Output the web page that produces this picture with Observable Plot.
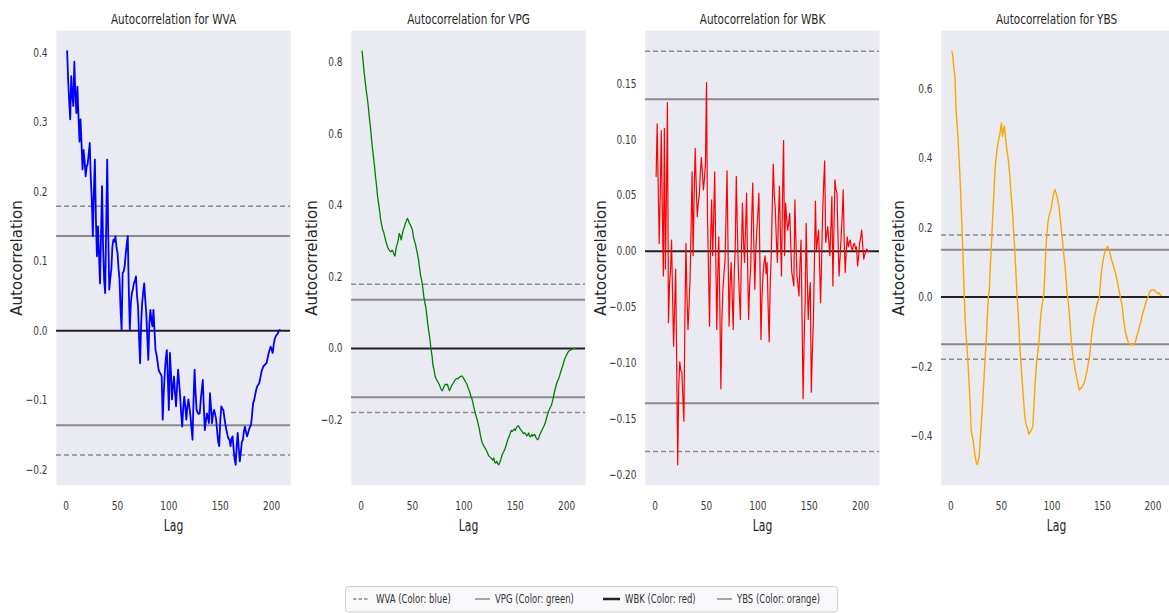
<!DOCTYPE html>
<html>
<head>
<meta charset="utf-8">
<script src="https://cdn.jsdelivr.net/npm/d3@7"></script>
<script src="https://cdn.jsdelivr.net/npm/@observablehq/plot@0.6"></script>
<style>
  html, body { margin: 0; padding: 0; background: #fff; }
  body { position: relative; width: 1169px; height: 613px; overflow: hidden; font-family: "DejaVu Sans", sans-serif; }
  .panel { position: absolute; top: 0; }
  .panel svg { max-width: none !important; overflow: visible; }
  #legend { position: absolute; left: 345px; top: 586px; }
</style>
</head>
<body>
<script>
// ---- data ----
const series = ["WVA", "VPG", "WBK", "YBS"];
const colors = ["blue", "green", "red", "orange"];
const xTicks = [0, 50, 100, 150, 200];
const bandSolid = 0.136;   // 95% band
const bandDashed = 0.179;  // 99% band

const wva = [
  0.402,0.36,0.33,0.304,0.366,0.34,0.323,0.387,0.34,0.313,
  0.351,0.31,0.272,0.304,0.27,0.232,0.26,0.245,0.222,0.236,
  0.24,0.255,0.27,0.22,0.188,0.136,0.2,0.246,0.16,0.107,
  0.15,0.11,0.068,0.14,0.208,0.12,0.073,0.054,0.15,0.246,
  0.14,0.059,0.075,0.088,0.12,0.131,0.128,0.136,0.12,0.112,
  0.09,0.073,0.03,0.001,0.083,0.085,0.093,0.11,0.125,0.136,
  0.06,0.001,0.04,0.054,0.06,0.068,0.072,0.078,0.05,0.035,
  -0.01,-0.047,0.01,0.04,0.055,0.068,0.045,0.025,-0.01,-0.042,
  0.01,0.03,0.015,0.006,0.03,0.0,-0.028,-0.035,-0.045,-0.056,
  -0.06,-0.062,-0.066,-0.128,-0.09,-0.061,-0.04,-0.028,-0.07,-0.114,
  -0.032,-0.06,-0.099,-0.08,-0.066,-0.09,-0.109,-0.08,-0.056,-0.075,
  -0.095,-0.12,-0.138,-0.11,-0.095,-0.11,-0.128,-0.11,-0.099,-0.11,
  -0.123,-0.14,-0.157,-0.1,-0.056,-0.09,-0.114,-0.118,-0.12,-0.119,
  -0.1,-0.085,-0.071,-0.11,-0.143,-0.13,-0.119,-0.125,-0.133,-0.09,
  -0.11,-0.133,-0.12,-0.114,-0.12,-0.128,-0.145,-0.16,-0.166,-0.13,
  -0.109,-0.112,-0.114,-0.125,-0.135,-0.143,-0.15,-0.155,-0.157,-0.166,
  -0.155,-0.152,-0.17,-0.185,-0.193,-0.165,-0.147,-0.17,-0.188,-0.175,
  -0.16,-0.157,-0.145,-0.138,-0.145,-0.152,-0.148,-0.142,-0.138,-0.135,
  -0.12,-0.104,-0.1,-0.092,-0.085,-0.08,-0.078,-0.075,-0.068,-0.06,
  -0.055,-0.051,-0.05,-0.048,-0.047,-0.04,-0.033,-0.028,-0.023,-0.027,
  -0.032,-0.02,-0.012,-0.008,-0.006,-0.004,0.0,0.001
];
const vpg = [
  0.83,0.8,0.77,0.745,0.72,0.7,0.675,0.645,0.62,0.59,
  0.56,0.535,0.51,0.48,0.455,0.425,0.405,0.385,0.36,0.345,
  0.331,0.325,0.312,0.3,0.29,0.282,0.276,0.272,0.27,0.274,
  0.272,0.262,0.258,0.28,0.29,0.3,0.321,0.315,0.303,0.318,
  0.331,0.338,0.349,0.355,0.363,0.358,0.349,0.345,0.338,0.33,
  0.31,0.3,0.29,0.275,0.262,0.245,0.222,0.201,0.19,0.17,
  0.145,0.128,0.115,0.09,0.065,0.045,0.025,-0.002,-0.02,-0.049,
  -0.06,-0.078,-0.085,-0.09,-0.095,-0.1,-0.108,-0.115,-0.118,-0.112,
  -0.104,-0.1,-0.102,-0.1,-0.11,-0.118,-0.112,-0.104,-0.1,-0.095,
  -0.09,-0.086,-0.084,-0.085,-0.082,-0.08,-0.078,-0.077,-0.08,-0.085,
  -0.09,-0.095,-0.1,-0.11,-0.116,-0.125,-0.135,-0.142,-0.155,-0.168,
  -0.179,-0.19,-0.2,-0.212,-0.225,-0.24,-0.255,-0.264,-0.27,-0.276,
  -0.28,-0.285,-0.292,-0.299,-0.302,-0.305,-0.308,-0.312,-0.306,-0.318,
  -0.32,-0.315,-0.322,-0.325,-0.318,-0.31,-0.299,-0.292,-0.287,-0.28,
  -0.272,-0.262,-0.253,-0.245,-0.238,-0.229,-0.232,-0.228,-0.225,-0.229,
  -0.222,-0.218,-0.216,-0.22,-0.226,-0.229,-0.234,-0.238,-0.235,-0.238,
  -0.244,-0.242,-0.236,-0.245,-0.247,-0.24,-0.245,-0.242,-0.24,-0.248,
  -0.253,-0.255,-0.248,-0.24,-0.234,-0.228,-0.222,-0.216,-0.21,-0.2,
  -0.188,-0.18,-0.172,-0.165,-0.16,-0.15,-0.138,-0.123,-0.112,-0.1,
  -0.092,-0.086,-0.078,-0.068,-0.058,-0.05,-0.04,-0.03,-0.024,-0.018,
  -0.012,-0.008,-0.006,-0.004,-0.002,-0.001,0.0,0.0
];
const wbk = [
  0.067,0.114,0.06,0.007,0.05,0.108,0.04,-0.022,0.11,-0.016,
  0.05,0.133,-0.064,-0.03,-0.016,0.01,-0.04,-0.085,-0.05,-0.016,
  -0.1,-0.191,-0.12,-0.099,-0.107,-0.108,-0.13,-0.152,-0.06,0.007,
  -0.04,-0.07,-0.05,-0.025,0.02,0.071,-0.004,0.05,0.092,0.06,
  0.031,0.043,0.05,0.07,0.084,0.07,0.055,0.065,0.078,0.151,
  0.03,-0.019,-0.067,0.01,0.046,-0.004,0.03,0.071,0.0,-0.07,
  -0.02,0.013,-0.05,-0.123,-0.06,-0.034,-0.02,-0.009,0.03,0.072,
  0.0,-0.067,-0.03,-0.01,-0.04,-0.07,-0.02,0.004,0.067,0.02,
  -0.016,-0.04,-0.061,0.0,0.043,0.01,-0.01,0.02,0.052,-0.01,
  -0.061,-0.03,-0.016,0.03,0.061,0.01,-0.034,0.0,0.019,0.035,
  0.052,-0.01,-0.079,-0.04,-0.022,-0.01,-0.004,-0.02,-0.01,-0.05,
  -0.081,-0.03,-0.004,0.04,0.078,0.05,0.037,0.01,-0.01,0.03,
  0.058,0.013,-0.022,0.05,0.099,-0.004,0.043,0.03,0.019,0.025,
  0.034,0.005,-0.019,-0.025,-0.031,0.046,0.01,-0.022,-0.03,-0.04,
  -0.01,0.01,-0.06,-0.132,-0.08,-0.046,0.025,-0.02,-0.061,-0.04,
  -0.028,-0.126,-0.09,-0.064,-0.01,0.045,0.001,0.01,0.019,-0.01,
  -0.046,-0.01,0.034,0.06,0.081,0.008,0.015,0.022,0.01,-0.004,
  0.02,0.049,-0.031,0.02,0.064,0.055,0.052,0.01,-0.022,-0.005,
  0.013,0.03,0.055,0.01,-0.019,0.0,0.013,0.004,0.008,0.01,
  0.003,0.001,0.006,0.007,0.002,0.004,-0.013,-0.005,0.007,0.012,
  0.019,0.005,-0.007,-0.003,0.0,0.002,0.0,0.0
];
const ybs = [
  0.708,0.69,0.656,0.636,0.54,0.5,0.46,0.4,0.345,0.27,
  0.195,0.11,0.02,-0.06,-0.11,-0.15,-0.195,-0.25,-0.31,-0.382,
  -0.4,-0.411,-0.44,-0.459,-0.475,-0.483,-0.47,-0.459,-0.41,-0.37,
  -0.325,-0.27,-0.22,-0.17,-0.12,-0.06,0.0,0.02,0.09,0.146,
  0.21,0.27,0.33,0.38,0.41,0.433,0.45,0.463,0.48,0.501,
  0.463,0.48,0.492,0.46,0.433,0.41,0.39,0.36,0.318,0.28,
  0.242,0.19,0.146,0.09,0.03,-0.02,-0.07,-0.13,-0.18,-0.22,
  -0.26,-0.3,-0.34,-0.36,-0.373,-0.38,-0.395,-0.39,-0.387,-0.38,
  -0.373,-0.32,-0.267,-0.22,-0.18,-0.16,-0.133,-0.09,-0.05,-0.027,
  -0.01,0.01,0.07,0.14,0.18,0.215,0.23,0.245,0.251,0.27,
  0.29,0.3,0.309,0.3,0.29,0.275,0.261,0.23,0.203,0.175,
  0.146,0.115,0.088,0.05,0.011,-0.01,-0.04,-0.08,-0.123,-0.15,
  -0.175,-0.19,-0.21,-0.225,-0.24,-0.255,-0.267,-0.265,-0.262,-0.258,
  -0.252,-0.248,-0.235,-0.22,-0.21,-0.19,-0.175,-0.15,-0.12,-0.094,
  -0.075,-0.055,-0.046,-0.03,-0.017,-0.008,0.0,0.04,0.075,0.095,
  0.112,0.125,0.136,0.14,0.146,0.14,0.131,0.12,0.107,0.098,
  0.088,0.078,0.069,0.055,0.04,0.025,0.011,-0.005,-0.017,-0.04,
  -0.065,-0.085,-0.105,-0.115,-0.125,-0.133,-0.135,-0.137,-0.136,-0.137,
  -0.135,-0.133,-0.125,-0.112,-0.104,-0.093,-0.08,-0.07,-0.058,-0.045,
  -0.036,-0.027,-0.015,-0.008,0.0,0.008,0.016,0.019,0.02,0.021,
  0.021,0.018,0.015,0.012,0.01,0.012,0.007,0.005
];
const yTicksWVA = [-0.2, -0.1, 0, 0.1, 0.2, 0.3, 0.4];
const yTicksVPG = [-0.2, 0, 0.2, 0.4, 0.6, 0.8];
const yTicksWBK = [-0.2, -0.15, -0.1, -0.05, 0, 0.05, 0.1, 0.15];
const yTicksYBS = [-0.4, -0.2, 0, 0.2, 0.4, 0.6];

// ---- layout ----
const SQ = 0.68;      // horizontal squeeze of titles / labels
const SQT = 0.72;     // horizontal squeeze of tick labels
const panels = [
  {name: "WVA", values: wva, color: "#0000ff", ticks: yTicksWVA, fmt: ".1f", left: 56,  w: 234, labelDx: -39.5, sw: 1.8},
  {name: "VPG", values: vpg, color: "#008000", ticks: yTicksVPG, fmt: ".1f", left: 351, w: 234, labelDx: -39.5, sw: 1.3},
  {name: "WBK", values: wbk, color: "#ff0000", ticks: yTicksWBK, fmt: ".2f", left: 645, w: 234, labelDx: -44, sw: 1.2},
  {name: "YBS", values: ybs, color: "#ffa500", ticks: yTicksYBS, fmt: ".1f", left: 941, w: 230, labelDx: -42, sw: 1.4}
];

function padDomain(vals) {
  const lo = Math.min(d3.min(vals), -bandDashed), hi = Math.max(d3.max(vals), bandDashed);
  const m = (hi - lo) * 0.05;
  return [lo - m, hi + m];
}

const ML = 56, MT = 30, PH = 455, MB = 80, MR = 5;

panels.forEach(p => {
  const data = p.values.map((v, i) => ({lag: i + 1, value: v}));
  const n = data.length;
  const xm = (n - 1) * 0.05;
  const lo = d3.min(p.values), hi = d3.max(p.values);
  const yDomain = p.name === "WBK" ? padDomain(p.values) : [lo - (hi - lo) * 0.05, hi + (hi - lo) * 0.05];
  const svg = Plot.plot({
    width: ML + p.w + MR,
    height: MT + PH + MB,
    marginLeft: ML, marginRight: MR, marginTop: MT, marginBottom: MB,
    style: {background: "transparent", fontFamily: "DejaVu Sans, sans-serif", fontSize: "12.5px", color: "#3a3a3a"},
    x: {domain: [1 - xm, n + xm], ticks: xTicks, tickFormat: d3.format("d"), label: null, tickSize: 0, tickPadding: 16},
    y: {domain: yDomain, ticks: p.ticks, tickFormat: d3.format(p.fmt), label: null, tickSize: 0, tickPadding: 9},
    marks: [
      Plot.frame({fill: "#eaeaf2", stroke: null}),
      Plot.ruleY([-bandDashed, bandDashed], {stroke: "#8a8a8a", strokeWidth: 1.5, strokeDasharray: "5,3"}),
      Plot.ruleY([-bandSolid, bandSolid], {stroke: "#8a8a8a", strokeWidth: 2}),
      Plot.ruleY([0], {stroke: "#222", strokeWidth: 2}),
      Plot.lineY(data, {x: "lag", y: "value", stroke: p.color, strokeWidth: p.sw}),
      Plot.text([`Autocorrelation for ${p.name}`], {frameAnchor: "top", lineAnchor: "middle", textAnchor: "middle", dy: -11.3, fontSize: 14.5, fill: "#262626"}),
      Plot.text(["Lag"], {frameAnchor: "bottom", lineAnchor: "middle", textAnchor: "middle", dy: 41, fontSize: 15, fill: "#262626"}),
      Plot.text(["Autocorrelation"], {frameAnchor: "left", lineAnchor: "middle", textAnchor: "middle", dx: p.labelDx, rotate: -90, fontSize: 15, fill: "#262626"})
    ]
  });
  svg.querySelectorAll("text").forEach(t => {
    const tr = t.getAttribute("transform") || "";
    if (tr.includes("rotate")) return;
    const fs = parseFloat(t.getAttribute("font-size") || "0");
    const s = fs >= 14 ? SQ : SQT;
    const x = +t.getAttribute("x") || 0, y = +t.getAttribute("y") || 0;
    t.setAttribute("transform", `${tr} translate(${x},${y}) scale(${s},1) translate(${-x},${-y})`);
  });
  const div = document.createElement("div");
  div.className = "panel";
  div.style.left = (p.left - ML) + "px";
  div.style.width = (ML + p.w + MR) + "px";
  div.appendChild(svg);
  document.body.appendChild(div);
});

// ---- legend ----
const legendItems = [
  {label: `${series[0]} (Color: ${colors[0]})`, x0: 8,   x1: 23,  tx: 31,  stroke: "#8a8a8a", sw: 1.5, dash: "3.5,2"},
  {label: `${series[1]} (Color: ${colors[1]})`, x0: 130, x1: 145, tx: 150, stroke: "#8a8a8a", sw: 1.5, dash: null},
  {label: `${series[2]} (Color: ${colors[2]})`, x0: 258, x1: 275, tx: 280, stroke: "#222",    sw: 2.5, dash: null},
  {label: `${series[3]} (Color: ${colors[3]})`, x0: 372, x1: 387, tx: 392, stroke: "#8a8a8a", sw: 1.5, dash: null}
];
const NS = "http://www.w3.org/2000/svg";
const lg = document.createElementNS(NS, "svg");
lg.setAttribute("id", "legend");
lg.setAttribute("width", 494); lg.setAttribute("height", 27);
const rect = document.createElementNS(NS, "rect");
Object.entries({x: 0.5, y: 0.5, width: 492, height: 25.5, rx: 3, fill: "#f9f9fb", stroke: "#cfcfcf"}).forEach(([k, v]) => rect.setAttribute(k, v));
lg.appendChild(rect);
legendItems.forEach(it => {
  const l = document.createElementNS(NS, "line");
  Object.entries({x1: it.x0, x2: it.x1, y1: 13, y2: 13, stroke: it.stroke, "stroke-width": it.sw}).forEach(([k, v]) => l.setAttribute(k, v));
  if (it.dash) l.setAttribute("stroke-dasharray", it.dash);
  lg.appendChild(l);
  const t = document.createElementNS(NS, "text");
  t.setAttribute("transform", `translate(${it.tx},17.2) scale(${SQ},1)`);
  t.setAttribute("font-family", "DejaVu Sans, sans-serif");
  t.setAttribute("font-size", 12.5);
  t.setAttribute("fill", "#333");
  t.textContent = it.label;
  lg.appendChild(t);
});
document.body.appendChild(lg);
</script>
</body>
</html>
